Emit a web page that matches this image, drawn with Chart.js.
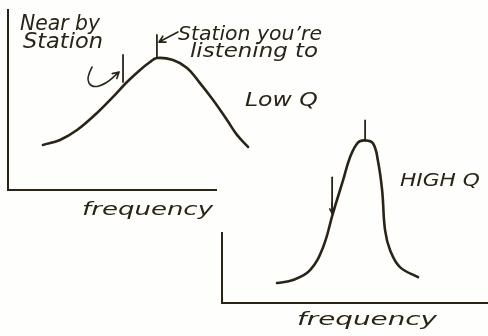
<!DOCTYPE html>
<html>
<head>
<meta charset="utf-8">
<script src="https://cdn.jsdelivr.net/npm/chart.js@4/dist/chart.umd.min.js"></script>
<style>
  body { margin: 0; background: #fefefc; }
  #wrap { position: relative; width: 488px; height: 336px; }
  #wrap canvas { position: absolute; left: 0; top: 0; }
</style>
</head>
<body>
<div id="wrap">
  <canvas id="lowQChart" width="488" height="336"></canvas>
  <canvas id="highQChart" width="488" height="336"></canvas>
</div>
<script>
// low Q response curve (broad)
const lowQFreq = [16.8, 25, 33.2, 42.8, 50.5, 57.2, 63.5, 68.3, 71.6, 79.3, 86.1, 92.3, 98.6, 105.3, 110.1, 115.4];
const lowQResponse = [25, 27.8, 33.3, 42.8, 51.7, 60, 66.7, 71.1, 73.3, 72.2, 67.8, 59.4, 50, 38.9, 30.6, 23.9];

// high Q response curve (sharp)
const highQFreq = [20.7, 26.7, 33.1, 38.0, 41.7, 45.5, 48.1, 51.1, 53.8, 56.8, 58.6, 60.2, 61.3, 63.2, 66.9, 73.7];
const highQResponse = [11.1, 12.8, 18.3, 31.1, 50, 68.3, 81.1, 89.4, 90.6, 88.9, 79.4, 62.8, 40.6, 29.4, 20, 14.4];

// station markers: [frequency, bottom, top]
const lowQStation = [71.6, 73.3, 86.1];
const lowQNearby = [55.3, 60, 75];
const highQStation = [53.8, 90.6, 101.7];
const highQNearby = [41.4, 50, 70];

const ink = '#2a2417';

function toPoints(xs, ys) {
  return xs.map((x, i) => ({ x: x, y: ys[i] }));
}
function marker(m) {
  return [{ x: m[0], y: m[1] }, { x: m[0], y: m[2] }];
}

// hand lettering and arrows, placed in axis units
const sketchNotes = {
  id: 'sketchNotes',
  afterDatasetsDraw(chart, args, opts) {
    const ctx = chart.ctx;
    const sx = chart.scales.x, sy = chart.scales.y;
    const px = v => sx.getPixelForValue(v);
    const py = v => sy.getPixelForValue(v);
    ctx.save();
    ctx.fillStyle = ink;
    ctx.strokeStyle = ink;
    ctx.lineCap = 'round';
    ctx.lineJoin = 'round';
    (opts.labels || []).forEach(l => {
      ctx.font = 'italic ' + l.size + 'px "DejaVu Sans"';
      ctx.textBaseline = 'alphabetic';
      const w = ctx.measureText(l.text).width;
      ctx.save();
      ctx.translate(px(l.x), py(l.y));
      ctx.scale(l.width / w, 1);
      ctx.fillText(l.text, 0, 0);
      ctx.restore();
    });
    (opts.arrows || []).forEach(a => {
      const p = a.path.map(q => [px(q[0]), py(q[1])]);
      ctx.lineWidth = 1.6;
      ctx.beginPath();
      ctx.moveTo(p[0][0], p[0][1]);
      for (let i = 1; i < p.length - 1; i++) {
        const mx = (p[i][0] + p[i + 1][0]) / 2, my = (p[i][1] + p[i + 1][1]) / 2;
        ctx.quadraticCurveTo(p[i][0], p[i][1], mx, my);
      }
      const end = p[p.length - 1], prev = p[p.length - 2];
      ctx.lineTo(end[0], end[1]);
      const ang = Math.atan2(end[1] - prev[1], end[0] - prev[0]);
      const hl = a.head || 7;
      ctx.moveTo(end[0] - hl * Math.cos(ang - 0.5), end[1] - hl * Math.sin(ang - 0.5));
      ctx.lineTo(end[0], end[1]);
      ctx.lineTo(end[0] - hl * Math.cos(ang + 0.5), end[1] - hl * Math.sin(ang + 0.5));
      ctx.stroke();
    });
    ctx.restore();
  }
};

// range is set after the data limits so that points past the axis end still get drawn
function axis(max) {
  return {
    type: 'linear',
    bounds: 'data',
    afterDataLimits: s => { s.min = 0; s.max = max; },
    ticks: { display: false },
    grid: { display: false, drawTicks: false },
    border: { display: true, color: ink, width: 2 }
  };
}

function curve(data, width) {
  return {
    data: data, borderColor: ink, borderWidth: width, tension: 0.4,
    pointRadius: 0, clip: false, borderCapStyle: 'round'
  };
}

function sketchChart(id, padding, yMax, datasets, notes) {
  return new Chart(document.getElementById(id), {
    type: 'line',
    data: { datasets: datasets },
    options: {
      responsive: false,
      animation: false,
      layout: { padding: padding },
      scales: { x: axis(100), y: axis(yMax) },
      plugins: { legend: { display: false }, tooltip: { enabled: false }, sketchNotes: notes }
    },
    plugins: [sketchNotes]
  });
}

sketchChart('lowQChart', { left: 8, top: 10, right: 272, bottom: 146 }, 100, [
  curve(toPoints(lowQFreq, lowQResponse), 2.6),
  curve(marker(lowQStation), 1.8),
  curve(marker(lowQNearby), 1.8)
], {
  labels: [
    { text: 'Near by', x: 5.8, y: 88.9, size: 21, width: 80 },
    { text: 'Station', x: 7.2, y: 78.9, size: 21, width: 80 },
    { text: 'Station you\u2019re', x: 81.7, y: 83.3, size: 19, width: 144 },
    { text: 'listening to', x: 87.5, y: 73.9, size: 19, width: 128 },
    { text: 'Low Q', x: 113.9, y: 46.7, size: 20, width: 73 },
    { text: 'frequency', x: 35.6, y: -13.9, size: 18, width: 131 }
  ],
  arrows: [
    { path: [[40.4, 68.3], [37.5, 62.2], [40.4, 56.7], [47.1, 58.9], [53.4, 65.6]] },
    { path: [[81.7, 87.8], [72.6, 82.2]] }
  ]
});

sketchChart('highQChart', { left: 222, top: 233, right: 0, bottom: 33 }, 39, [
  curve(toPoints(highQFreq, highQResponse), 2.6),
  curve(marker(highQStation), 1.8),
  curve(marker(highQNearby), 1.8)
], {
  labels: [
    { text: 'HIGH Q', x: 66.9, y: 65, size: 18, width: 80 },
    { text: 'frequency', x: 28.2, y: -12.2, size: 18, width: 140 }
  ],
  arrows: [
    { path: [[41.4, 56], [41.4, 50]], head: 5 }
  ]
});
</script>
</body>
</html>
